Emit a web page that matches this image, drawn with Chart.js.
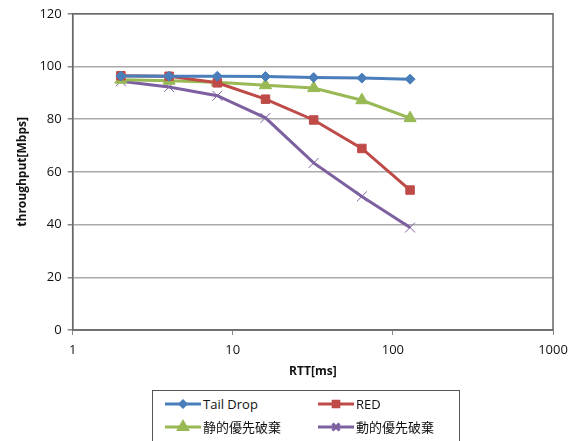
<!DOCTYPE html>
<html>
<head>
<meta charset="utf-8">
<script src="https://cdn.jsdelivr.net/npm/chart.js@4"></script>
<style>
  body { margin: 0; background: #fff; font-family: "Open Sans", "Noto Sans CJK JP", sans-serif; }
  #wrap { position: relative; width: 578px; height: 441px; overflow: hidden; }
  #chart { position: absolute; left: 0; top: 0; }
  #legend {
    position: absolute; left: 152px; top: 390px; width: 308px; height: 60px;
    border: 1px solid #555; box-sizing: border-box; font-size: 13px; color: #111;
  }
  .item { position: absolute; display: flex; align-items: center; }
  .item canvas { margin-right: 2px; }
</style>
</head>
<body>
<div id="wrap">
  <canvas id="chart" width="578" height="385"></canvas>
  <div id="legend"></div>
</div>
<script>
// データ
const rtt = [2, 4, 8, 16, 32, 64, 128];
const tailDrop = [96.4, 96.3, 96.3, 96.2, 95.8, 95.6, 95.2];
const red = [96.5, 96.3, 93.8, 87.6, 79.7, 68.9, 53.1];
const staticPrio = [95.0, 94.6, 94.0, 92.9, 91.8, 87.2, 80.4];
const dynamicPrio = [94.4, 92.2, 88.9, 80.5, 63.4, 50.7, 38.9];
const xTicks = [1, 10, 100, 1000];
const yTicks = [0, 20, 40, 60, 80, 100, 120];

const series = [
  { label: "Tail Drop", data: tailDrop, color: "#4a7ebb", style: "rectRot", r: 5 },
  { label: "RED", data: red, color: "#be4b48", style: "rect", r: 6 },
  { label: "静的優先破棄", data: staticPrio, color: "#98b954", style: "triangle", r: 7 },
  { label: "動的優先破棄", data: dynamicPrio, color: "#7d60a0", style: "crossRot", r: 7 }
];

// プロットエリアの枠
const frame = {
  id: "frame",
  afterDraw(chart) {
    const a = chart.chartArea, c = chart.ctx;
    c.save();
    c.strokeStyle = "#666";
    c.lineWidth = 1.5;
    c.strokeRect(a.left, a.top, a.right - a.left, a.bottom - a.top);
    c.restore();
  }
};

new Chart(document.getElementById("chart"), {
  type: "line",
  data: {
    datasets: series.map((s) => ({
      label: s.label,
      data: s.data.map((v, i) => ({ x: rtt[i], y: v })),
      borderColor: s.color,
      backgroundColor: s.color,
      borderWidth: 3,
      pointStyle: s.style,
      pointRadius: s.r,
      pointBorderWidth: 1,
      pointHoverRadius: s.r,
      tension: 0
    }))
  },
  plugins: [frame],
  options: {
    responsive: false,
    animation: false,
    layout: { padding: { top: 8, right: 25, left: 11, bottom: 2 } },
    plugins: { legend: { display: false }, tooltip: { enabled: false } },
    scales: {
      x: {
        type: "logarithmic",
        min: 1,
        max: 1000,
        afterBuildTicks: (axis) => { axis.ticks = xTicks.map((v) => ({ value: v })); },
        ticks: {
          color: "#111",
          font: { size: 13, family: "Open Sans" },
          callback: (v) => String(v),
          maxRotation: 0,
          padding: 7
        },
        grid: { drawOnChartArea: false, color: "#888", tickLength: 5 },
        border: { color: "#888", width: 1.5 },
        title: {
          display: true, text: "RTT[ms]", color: "#111",
          font: { size: 12, weight: "bold", family: "Open Sans" }, padding: { top: 0 }
        }
      },
      y: {
        min: 0,
        max: 120,
        afterBuildTicks: (axis) => { axis.ticks = yTicks.map((v) => ({ value: v })); },
        ticks: { color: "#111", font: { size: 13, family: "Open Sans" }, padding: 6 },
        grid: { color: "#aaa", lineWidth: 1.5, tickLength: 5, tickColor: "#888" },
        border: { color: "#888", width: 1.5 },
        title: {
          display: true, text: "throughput[Mbps]", color: "#111",
          font: { size: 12, weight: "bold", family: "Open Sans" }, padding: { bottom: 4 }
        }
      }
    }
  }
});

// 凡例
const legend = document.getElementById("legend");
const pos = [[12, 4], [165, 4], [12, 26], [165, 26]];
series.forEach((s, i) => {
  const item = document.createElement("div");
  item.className = "item";
  item.style.left = pos[i][0] + "px";
  item.style.top = pos[i][1] + "px";
  const cv = document.createElement("canvas");
  cv.width = 36; cv.height = 16;
  const g = cv.getContext("2d");
  g.strokeStyle = s.color; g.fillStyle = s.color; g.lineWidth = 3;
  g.beginPath(); g.moveTo(0, 8); g.lineTo(36, 8); g.stroke();
  Chart.helpers.drawPoint(g, { pointStyle: s.style, radius: s.r - 2, borderWidth: 1 }, 18, 8);
  g.fill();
  item.appendChild(cv);
  const t = document.createElement("span");
  t.textContent = s.label;
  item.appendChild(t);
  legend.appendChild(item);
});
</script>
</body>
</html>
